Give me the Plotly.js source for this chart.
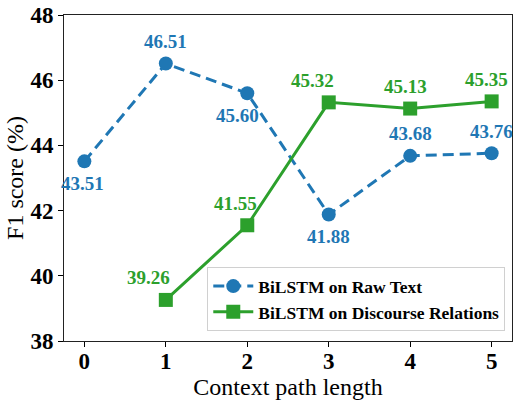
<!DOCTYPE html>
<html>
<head>
<meta charset="utf-8">
<script src="https://cdn.plot.ly/plotly-3.0.1.min.js"></script>
<style>
  body { margin: 0; background: #fff; }
  #chart { width: 517px; height: 402px; }
</style>
</head>
<body>
<div id="chart"></div>
<script>
// context path lengths
const pathLen = [0, 1, 2, 3, 4, 5];
const rawText = [43.51, 46.51, 45.60, 41.88, 43.68, 43.76];
const discLen = [1, 2, 3, 4, 5];
const discRel = [39.26, 41.55, 45.32, 45.13, 45.35];

const BLUE = "#1f77b4";
const GREEN = "#2ca02c";
const SERIF = "Liberation Serif";

// where each label sits relative to its point
const rawShift = [[-2, -22], [0, 22], [-10, -22], [0, -22], [0, 22], [0, 22]];
const discShift = [[-17, 22], [-12, 22], [-16, 22], [-5, 22], [-5, 22]];

const annotations = [];
rawText.forEach((v, i) => {
  annotations.push({
    x: pathLen[i], y: v, text: "<b>" + v.toFixed(2) + "</b>",
    showarrow: false, xshift: rawShift[i][0], yshift: rawShift[i][1],
    font: { family: SERIF, size: 19, color: BLUE },
  });
});
discRel.forEach((v, i) => {
  annotations.push({
    x: discLen[i], y: v, text: "<b>" + v.toFixed(2) + "</b>",
    showarrow: false, xshift: discShift[i][0], yshift: discShift[i][1],
    font: { family: SERIF, size: 19, color: GREEN },
  });
});

const traces = [
  {
    x: pathLen, y: rawText, name: "BiLSTM on Raw Text",
    type: "scatter", mode: "lines+markers",
    line: { color: BLUE, width: 3, dash: "11px,6px" },
    marker: { color: BLUE, size: 14, symbol: "circle" },
  },
  {
    x: discLen, y: discRel, name: "BiLSTM on Discourse Relations",
    type: "scatter", mode: "lines+markers",
    line: { color: GREEN, width: 3 },
    marker: { color: GREEN, size: 14, symbol: "square" },
  },
];

const layout = {
  width: 517, height: 402,
  margin: { l: 64, r: 5, t: 15, b: 61 },
  paper_bgcolor: "#fff", plot_bgcolor: "#fff",
  font: { family: SERIF, color: "#000" },
  showlegend: true,
  legend: {
    x: 0.985, y: 0.03, xanchor: "right", yanchor: "bottom",
    bgcolor: "rgba(255,255,255,0.8)", bordercolor: "#d0d0d0", borderwidth: 1,
    font: { family: SERIF, size: 17.5, color: "#000", weight: "bold" },
    tracegroupgap: 0, itemwidth: 40,
  },
  xaxis: {
    range: [-0.25, 5.25], tickvals: pathLen,
    ticks: "outside", ticklen: 5, tickwidth: 1, tickcolor: "#000",
    ticklabelstandoff: -6,
    showline: true, linecolor: "#222", linewidth: 1, mirror: true,
    showgrid: false, zeroline: false,
    tickfont: { family: SERIF, size: 23, weight: "bold" },
    title: { text: "Context path length", font: { family: SERIF, size: 24 }, standoff: 3 },
  },
  yaxis: {
    range: [38, 48], dtick: 2,
    ticks: "outside", ticklen: 5, tickwidth: 1, tickcolor: "#000",
    showline: true, linecolor: "#222", linewidth: 1, mirror: true,
    showgrid: false, zeroline: false,
    tickfont: { family: SERIF, size: 23, weight: "bold" },
    title: { text: "F1 score (%)", font: { family: SERIF, size: 24 }, standoff: 0 },
  },
  annotations: annotations,
};

Plotly.newPlot("chart", traces, layout, { displayModeBar: false, staticPlot: true });
</script>
</body>
</html>
